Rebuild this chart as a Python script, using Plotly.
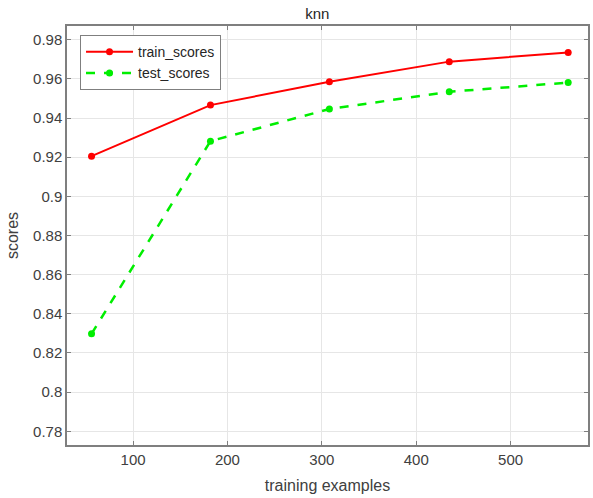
import plotly.graph_objects as go

# Learning-curve data for the knn classifier
train_sizes = [56, 182, 308, 435, 561]
train_scores = [0.9205, 0.9466, 0.9585, 0.9688, 0.9735]
test_scores = [0.8298, 0.9282, 0.9446, 0.9534, 0.9581]
x_ticks = [100, 200, 300, 400, 500]
y_ticks = [0.78, 0.8, 0.82, 0.84, 0.86, 0.88, 0.9, 0.92, 0.94, 0.96, 0.98]
y_tick_text = ["0.78", "0.8", "0.82", "0.84", "0.86", "0.88", "0.9", "0.92", "0.94", "0.96", "0.98"]

font_family = "Liberation Sans, Arial, sans-serif"
text_color = "#404040"

fig = go.Figure()
fig.add_trace(go.Scatter(
    x=train_sizes, y=train_scores, name="train_scores",
    mode="lines+markers",
    line=dict(color="#ff0000", width=2),
    marker=dict(color="#ff0000", size=7, symbol="circle"),
))
fig.add_trace(go.Scatter(
    x=train_sizes, y=test_scores, name="test_scores",
    mode="lines+markers",
    line=dict(color="#00ee00", width=2.5, dash="dash"),
    marker=dict(color="#00ee00", size=7, symbol="circle"),
))

axis_common = dict(
    showline=True, linecolor="#7f7f7f", linewidth=1.5, mirror="ticks",
    ticks="inside", ticklen=4, tickcolor="#7f7f7f",
    showgrid=True, gridcolor="#e6e6e6", gridwidth=1,
    zeroline=False,
    tickfont=dict(family=font_family, size=15, color=text_color),
)

fig.update_layout(
    width=593, height=498,
    margin=dict(l=67, r=3, t=26, b=53),
    paper_bgcolor="white", plot_bgcolor="white",
    title=dict(text="knn", x=0.535, xanchor="center", y=0.972, yanchor="middle",
               font=dict(family=font_family, size=15, color="#262626")),
    xaxis=dict(range=[30, 582], tickvals=x_ticks,
               title=dict(text="training examples", standoff=13,
                          font=dict(family=font_family, size=16, color=text_color)),
               **axis_common),
    yaxis=dict(range=[0.773, 0.987], tickvals=y_ticks, ticktext=y_tick_text,
               title=dict(text="scores", standoff=10,
                          font=dict(family=font_family, size=16, color=text_color)),
               **axis_common),
    legend=dict(x=0.025, y=0.978, xanchor="left", yanchor="top",
                bgcolor="white", bordercolor="#7f7f7f", borderwidth=1,
                font=dict(family=font_family, size=14, color="#262626"),
                tracegroupgap=0, itemwidth=47),
    showlegend=True,
)

fig.write_html("out.html")
